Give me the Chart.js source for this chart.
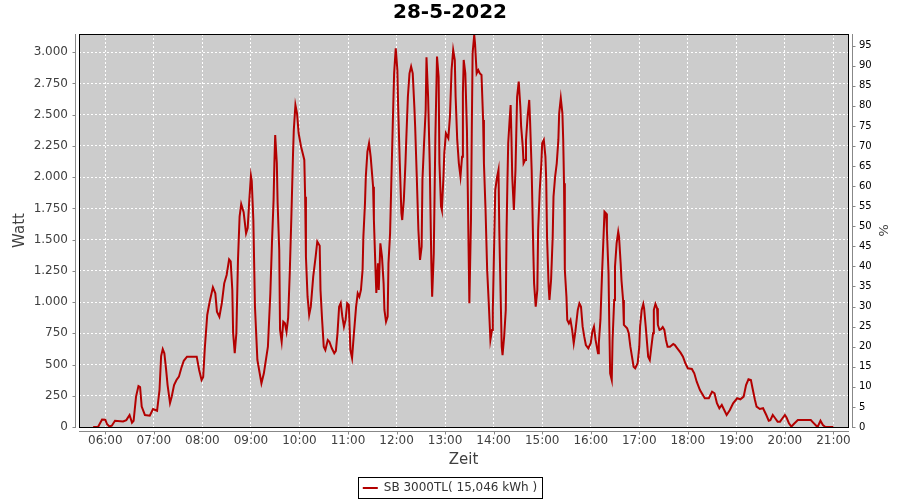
<!DOCTYPE html>
<html>
<head>
<meta charset="utf-8">
<script src="https://cdn.jsdelivr.net/npm/chart.js@4/dist/chart.umd.min.js"></script>
<style>
  html, body { margin: 0; padding: 0; background: #fff; }
  canvas { display: block; }
</style>
</head>
<body>
<canvas id="solar" width="900" height="500"></canvas>
<script>
// time of day in minutes since midnight
const minutes = [
  345,351,356,360,362,365,368,372,382,386,390,393,395,398,401,
  403,405,409,415,419,424,427,429,431,433,435,437,440,442,445,
  448,451,454,457,461,473,476,479,481,483,486,489,493,496,498,
  501,504,507,510,513,515,517,518,520,522,524,526,528,531,534,
  536,538,540,541,543,545,548,553,556,561,564,566,568,569,570,
  572,573,575,576,578,580,582,584,586,588,590,592,593,595,597,
  599,602,604,606,607,608,610,612,614,617,620,622,625,626,628,
  630,632,635,637,640,643,645,647,649,651,653,655,657,659,661,
  663,665,667,670,672,674,676,678,679,681,682,684,686,688,691,
  692,694,695,697,698,700,702,704,705,707,709,710,712,714,716,
  717,719,721,722,724,726,727,729,731,732,734,736,738,740,742,
  743,745,747,749,751,752,754,756,757,759,761,763,764,766,768,
  770,772,773,775,776,778,779,781,784,786,788,790,792,793,795,
  797,799,801,802,803,805,807,808,809,810,812,813,814,816,817,
  819,821,823,825,827,828,830,832,834,836,838,839,841,842,844,
  846,847,848,850,851,853,855,856,857,858,860,861,862,863,865,
  867,868,869,871,873,874,876,877,879,880,882,884,885,887,889,
  890,892,894,895,897,899,900,902,904,905,906,908,909,911,913,
  914,916,918,920,921,923,925,926,927,928,930,931,933,935,937,
  939,941,944,946,948,950,952,954,957,960,962,964,966,969,970,
  972,973,974,976,977,979,980,982,983,984,986,987,989,990,992,
  994,995,997,998,1000,1001,1005,1007,1009,1011,1013,1015,1018,1020,1021,
  1023,1025,1026,1028,1030,1031,1033,1035,1037,1038,1040,1042,1043,1045,1047,
  1049,1051,1053,1055,1058,1062,1064,1067,1071,1074,1077,1080,1085,1088,1091,
  1095,1101,1106,1110,1113,1116,1119,1122,1125,1128,1132,1136,1141,1145,1149,
  1152,1155,1158,1160,1163,1165,1169,1173,1177,1180,1182,1185,1188,1191,1194,
  1197,1200,1202,1205,1208,1211,1216,1232,1235,1239,1241,1244,1247,1250,1260
];
// power in watt
const watts = [
  0,0,60,58,25,5,10,50,45,55,96,35,50,243,328,
  320,163,96,90,144,130,296,568,624,590,472,336,192,240,336,
  376,403,472,530,563,563,456,376,400,630,897,1003,1118,1070,923,
  883,990,1150,1217,1342,1325,1097,752,592,750,1337,1684,1785,1720,1550,
  1592,1817,2010,1970,1657,963,536,350,430,643,1070,1473,1817,2113,2338,
  2113,1793,1417,777,683,843,830,763,873,1233,1684,2177,2378,2578,2511,
  2351,2244,2191,2138,1844,1363,1043,897,963,1203,1363,1484,1450,1097,857,
  643,616,697,683,630,590,610,750,963,993,883,803,857,990,977,
  616,552,723,963,1070,1043,1097,1257,1524,1793,2004,2204,2271,2164,1924,
  1657,1257,1073,1310,1097,1470,1363,1150,937,843,883,1310,1550,2084,2591,
  2831,3032,2858,2564,2111,1711,1657,1817,2111,2298,2644,2831,2885,2831,2564,
  2404,2004,1577,1337,1443,1977,2271,2538,2960,2644,2114,1310,1043,1390,2324,
  2965,2804,2111,1764,1737,2004,2191,2351,2311,2484,2858,3018,2938,2644,2298,
  2111,2004,2164,2671,2938,2831,2378,1924,1443,990,1657,2378,2991,3138,3072,
  2831,2858,2831,2818,2458,2111,1737,1257,990,697,777,937,1577,1897,1991,
  2058,1577,1257,643,576,723,937,1577,1951,2271,2484,2578,2324,2004,1737,
  2058,2354,2644,2765,2564,2404,2244,2111,2138,2298,2484,2618,2458,2058,1417,
  1150,963,1097,1577,1897,2111,2271,2298,2164,1977,1524,1123,1017,1177,1524,
  1844,2004,2111,2298,2511,2632,2511,2298,1951,1257,1043,857,830,857,777,
  670,763,937,990,963,803,723,656,630,670,763,803,697,590,670,
  857,1043,1230,1550,1724,1710,1577,1230,803,430,376,697,1017,1283,1470,
  1564,1524,1310,1177,1017,817,790,750,643,563,483,470,510,643,803,
  937,985,950,803,643,563,536,643,750,937,985,950,817,777,783,
  800,777,697,643,643,665,656,630,595,563,510,470,465,430,363,
  296,230,230,283,270,190,150,176,136,96,136,190,230,222,243,
  336,382,376,310,216,163,144,150,96,50,55,96,70,43,43,
  70,96,76,30,3,24,56,56,35,8,8,50,16,0,0
];

const hourTicks = ['06:00','07:00','08:00','09:00','10:00','11:00','12:00','13:00',
  '14:00','15:00','16:00','17:00','18:00','19:00','20:00','21:00'];
const wattTicks = [0,250,500,750,1000,1250,1500,1750,2000,2250,2500,2750,3000];
const wattTickLabels = ['0','250','500','750','1.000','1.250','1.500','1.750',
  '2.000','2.250','2.500','2.750','3.000'];
const pctTicks = [0,5,10,15,20,25,30,35,40,45,50,55,60,65,70,75,80,85,90,95];

const seriesLabel = 'SB 3000TL( 15,046 kWh )';
const chartTitle = '28-5-2022';

function toMinutes(hhmm) {
    const [h, m] = hhmm.split(':').map(Number);
    return h * 60 + m;
}

Chart.defaults.font.family = 'DejaVu Sans';

// plot background, outline, detached grey axes and the legend frame
const plotDecor = {
    id: 'plotDecor',
    afterLayout(chart) {
        chart.legend.top += 4;
        chart.legend.bottom += 4;
    },
    beforeDraw(chart) {
        const {ctx, chartArea: a} = chart;
        ctx.save();
        ctx.fillStyle = '#cccccc';
        ctx.fillRect(a.left, a.top, a.right - a.left, a.bottom - a.top);
        ctx.restore();
    },
    afterDraw(chart) {
        const {ctx, chartArea: a, scales} = chart;
        ctx.save();
        ctx.lineWidth = 1;
        ctx.strokeStyle = '#000';
        ctx.strokeRect(a.left + 0.5, a.top + 0.5, a.right - a.left, a.bottom - a.top);

        ctx.strokeStyle = '#888';
        ctx.beginPath();
        const lx = a.left - 4 + 0.5;
        const rx = a.right + 4 + 0.5;
        const by = a.bottom + 4 + 0.5;
        ctx.moveTo(lx, a.top); ctx.lineTo(lx, a.bottom + 1);
        ctx.moveTo(rx, a.top); ctx.lineTo(rx, a.bottom + 1);
        ctx.moveTo(a.left, by); ctx.lineTo(a.right + 1, by);
        for (const t of scales.y.ticks) {
            const py = Math.round(scales.y.getPixelForValue(t.value)) + 0.5;
            ctx.moveTo(lx - 3, py); ctx.lineTo(lx, py);
        }
        for (const t of scales.y1.ticks) {
            const py = Math.round(scales.y1.getPixelForValue(t.value)) + 0.5;
            ctx.moveTo(rx, py); ctx.lineTo(rx + 3, py);
        }
        for (const t of scales.x.ticks) {
            const px = Math.round(scales.x.getPixelForValue(t.value)) + 0.5;
            ctx.moveTo(px, by); ctx.lineTo(px, by + 3);
        }
        ctx.stroke();

        // frame round the legend item
        const lg = chart.legend;
        ctx.font = '12px "DejaVu Sans"';
        const itemW = 15 + 6 + ctx.measureText(seriesLabel).width;
        const x0 = Math.round((chart.width - itemW) / 2) - 5;
        const cy = lg.top + 6 + 6;
        ctx.strokeStyle = '#000';
        ctx.strokeRect(x0 + 0.5, Math.round(cy - 11) + 0.5, Math.round(itemW) + 10, 21);
        ctx.restore();
    }
};

new Chart(document.getElementById('solar'), {
    type: 'line',
    data: {
        datasets: [{
            label: seriesLabel,
            data: minutes.map((m, i) => ({x: m, y: watts[i]})),
            borderColor: '#b30000',
            backgroundColor: '#b30000',
            borderWidth: 2,
            pointRadius: 0,
            tension: 0,
            yAxisID: 'y'
        }]
    },
    options: {
        responsive: false,
        animation: false,
        devicePixelRatio: 1,
        layout: { padding: 0 },
        plugins: {
            title: {
                display: true,
                text: chartTitle,
                color: '#000',
                font: { size: 20, weight: 'bold' },
                padding: { top: 1, bottom: 9 }
            },
            legend: {
                position: 'bottom',
                labels: {
                    usePointStyle: true,
                    pointStyle: 'line',
                    pointStyleWidth: 15,
                    padding: 6,
                    color: '#333',
                    font: { size: 12 }
                }
            },
            tooltip: { enabled: false }
        },
        scales: {
            x: {
                type: 'linear',
                min: 327.5,
                max: 1278,
                afterBuildTicks: s => { s.ticks = hourTicks.map(h => ({value: toMinutes(h)})); },
                afterFit: s => { s.height = 45; },
                ticks: {
                    callback: (v, i) => hourTicks[i],
                    padding: 7,
                    color: '#404040',
                    font: { size: 12 },
                    maxRotation: 0,
                    autoSkip: false
                },
                grid: { color: '#ffffff', drawTicks: false },
                border: { display: false, dash: [2, 2] },
                title: { display: true, text: 'Zeit', color: '#404040', font: { size: 15 }, padding: { top: 0, bottom: 3 } }
            },
            y: {
                position: 'left',
                min: 0,
                max: 3146,
                afterBuildTicks: s => { s.ticks = wattTicks.map(v => ({value: v})); },
                afterFit: s => { s.width = 79; },
                ticks: {
                    callback: (v, i) => wattTickLabels[i],
                    padding: 11,
                    color: '#404040',
                    font: { size: 12 }
                },
                grid: { color: '#ffffff', drawTicks: false },
                border: { display: false, dash: [2, 2] },
                title: { display: true, text: 'Watt', color: '#404040', font: { size: 15 }, padding: { top: 11, bottom: 0 } }
            },
            y1: {
                position: 'right',
                min: 0,
                max: 97.9,
                afterBuildTicks: s => { s.ticks = pctTicks.map(v => ({value: v})); },
                afterFit: s => { s.width = 52; },
                ticks: {
                    callback: (v, i) => String(pctTicks[i]),
                    padding: 11,
                    color: '#000',
                    font: { size: 10 }
                },
                grid: { display: false, drawTicks: false },
                border: { display: false },
                title: { display: true, text: '%', color: '#404040', font: { size: 13 }, padding: { top: 10, bottom: 0 } }
            }
        }
    },
    plugins: [plotDecor]
});
</script>
</body>
</html>
